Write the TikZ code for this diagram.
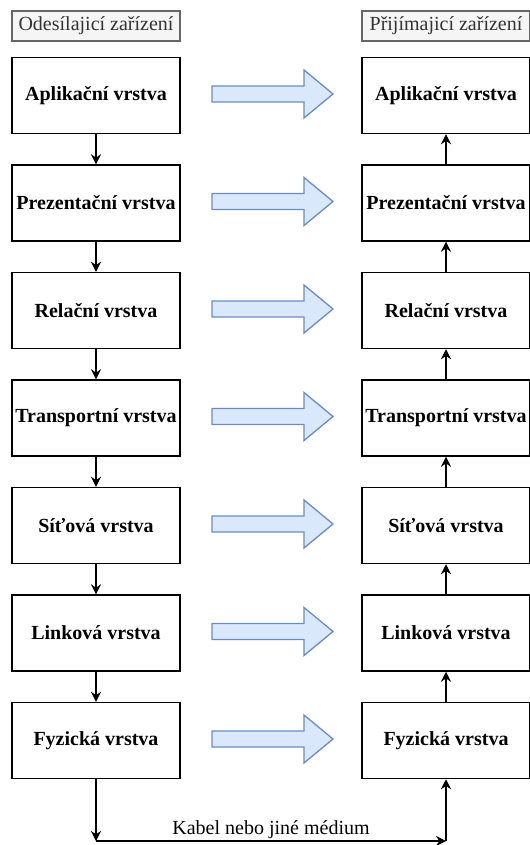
\documentclass[tikz,border=0pt]{standalone}
\usepackage{fontspec}
\setmainfont{Liberation Serif}
\usetikzlibrary{arrows.meta}
\definecolor{hdrfill}{HTML}{F5F5F5}
\definecolor{hdrline}{HTML}{666666}
\definecolor{hdrtext}{HTML}{333333}
\definecolor{arrfill}{HTML}{DAE8FC}
\definecolor{arrline}{HTML}{6C8EBF}
\begin{document}
\begin{tikzpicture}[x=0.75pt, y=-0.75pt,
    layer/.style={rectangle, draw, line width=1.1pt, minimum width=126pt,
      minimum height=57pt, inner sep=0pt, font=\fontsize{15}{18}\selectfont\bfseries},
    header/.style={rectangle, draw=hdrline, fill=hdrfill, text=hdrtext, line width=0.8pt,
      minimum width=126pt, minimum height=22.5pt, inner sep=0pt, font=\fontsize{15}{18}\selectfont},
    pics/bigarrow/.style={code={
        \draw[draw=arrline, fill=arrfill, line width=1pt, line join=miter]
        (0,-8) -- (92,-8) -- (92,-24) -- (121,0) -- (92,24) -- (92,8) -- (0,8) -- cycle;}}]
    \useasboundingbox (0,0) rectangle (529,845);

    % headers
    \node[header] (hs) at (96,26) {Odesílajicí zařízení};
    \node[header] (hr) at (446,26) {Přijímajicí zařízení};

    % sending side
    \begin{scope}[every node/.style={layer}]
      \node (s1) at (96,95.5) {Aplikační vrstva};
      \node (s2) at (96,203) {Prezentační vrstva};
      \node (s3) at (96,310.5) {Relační vrstva};
      \node (s4) at (96,418) {Transportní vrstva};
      \node (s5) at (96,525.5) {Síťová vrstva};
      \node (s6) at (96,633) {Linková vrstva};
      \node (s7) at (96,740.5) {Fyzická vrstva};
    \end{scope}

    % receiving side
    \begin{scope}[every node/.style={layer}]
      \node (r1) at (446,95.5) {Aplikační vrstva};
      \node (r2) at (446,203) {Prezentační vrstva};
      \node (r3) at (446,310.5) {Relační vrstva};
      \node (r4) at (446,418) {Transportní vrstva};
      \node (r5) at (446,525.5) {Síťová vrstva};
      \node (r6) at (446,633) {Linková vrstva};
      \node (r7) at (446,740.5) {Fyzická vrstva};
    \end{scope}

    % big arrows between the sides
    \pic at (212,94) {bigarrow};
    \pic at (212,201.5) {bigarrow};
    \pic at (212,309) {bigarrow};
    \pic at (212,416.5) {bigarrow};
    \pic at (212,524) {bigarrow};
    \pic at (212,631.5) {bigarrow};
    \pic at (212,739) {bigarrow};

    \coordinate (cl) at (96,841);
    \coordinate (cr) at (446,841);

    \begin{scope}[->, >={Stealth[length=7.5pt,width=7.5pt,inset=2.5pt]}, line width=0.9pt]
      \draw (s1) to (s2);
      \draw (s2) to (s3);
      \draw (s3) to (s4);
      \draw (s4) to (s5);
      \draw (s5) to (s6);
      \draw (s6) to (s7);
      \draw (r2) to (r1);
      \draw (r3) to (r2);
      \draw (r4) to (r3);
      \draw (r5) to (r4);
      \draw (r6) to (r5);
      \draw (r7) to (r6);
      \draw (s7) to (cl);
      \draw (cl) to node[above, inner sep=1.5pt, font=\fontsize{15}{18}\selectfont] {Kabel nebo jiné médium} (cr);
      \draw (cr) to (r7);
    \end{scope}
\end{tikzpicture}
\end{document}
